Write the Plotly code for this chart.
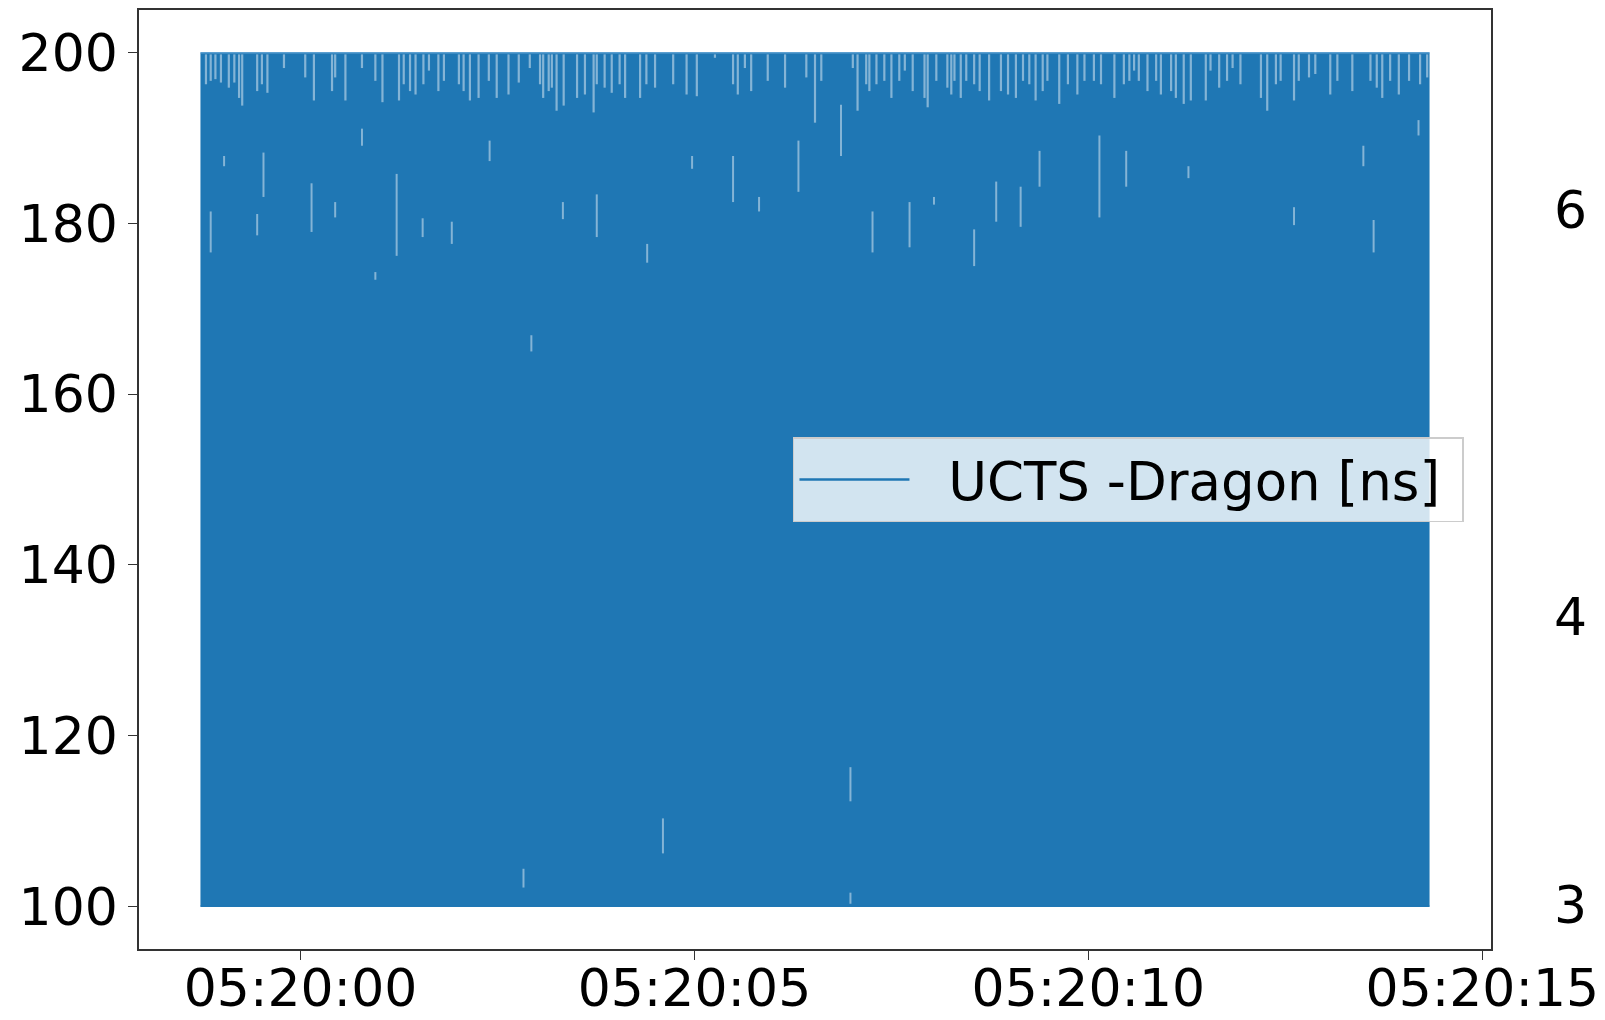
import plotly.graph_objects as go
from datetime import datetime, timedelta

# ---- data ----
BASE = datetime(2020, 1, 1, 5, 20, 0)
series_name = "UCTS -Dragon [ns]"
t_start, t_end = -1.27, 14.33          # seconds relative to 05:20:00
v_low, v_high = 100, 200               # envelope of the dense signal

# short dips from the top of the envelope: (seconds, lowest value)
top_dip_t = [-1.20, -1.14, -1.08, -1.01, -0.91, -0.84, -0.78, -0.74, -0.55, -0.49, -0.42, -0.21,
             0.06, 0.17, 0.40, 0.44, 0.57, 0.78, 0.95, 1.04, 1.25, 1.31, 1.39, 1.46, 1.56, 1.63,
             1.75, 1.82, 2.01, 2.07, 2.15, 2.26, 2.39, 2.49, 2.64,
             2.77, 2.91, 3.04, 3.08, 3.15, 3.19, 3.25, 3.34, 3.51, 3.61, 3.72, 3.76, 3.86, 3.95,
             4.05, 4.12, 4.31, 4.39, 4.50, 4.73, 4.90, 5.03, 5.26, 5.49, 5.55, 5.64, 5.72, 5.93,
             6.15, 6.42, 6.53, 6.61,
             7.01, 7.07, 7.18, 7.22, 7.31, 7.41, 7.50, 7.60, 7.67, 7.77, 7.92, 7.96, 8.07, 8.21,
             8.26, 8.30, 8.38, 8.45, 8.55, 8.62, 8.74, 8.89, 8.98, 9.08, 9.17, 9.25, 9.33, 9.42,
             9.48, 9.63, 9.74, 9.86, 9.95, 10.07, 10.16, 10.33, 10.45, 10.52,
             10.58, 10.64, 10.75, 10.86, 10.92, 11.05, 11.11, 11.21, 11.30, 11.49, 11.55, 11.66,
             11.76, 11.83, 11.93, 12.19, 12.27, 12.38, 12.44, 12.61, 12.67, 12.80, 12.88, 13.07,
             13.16, 13.35, 13.58, 13.66, 13.73, 13.83, 13.94, 14.07, 14.21, 14.30]
top_dip_v = [196.3, 196.7, 196.9, 196.5, 195.9, 196.5, 194.7, 193.8, 195.5, 196.3, 195.3, 198.2,
             197.1, 194.4, 195.5, 197.1, 194.4, 198.2, 196.7, 194.2, 194.4, 196.3, 195.5, 195.1, 196.3, 197.9,
             195.5, 196.7, 196.3, 195.5, 194.4, 194.7, 196.7, 194.7, 195.1,
             196.5, 198.2, 196.3, 194.7, 195.5, 195.9, 193.2, 193.8, 194.7, 195.1, 193.0, 196.3, 195.9, 195.3,
             196.3, 194.7, 194.7, 196.3, 195.9, 196.3, 195.1, 194.9, 199.4, 196.3, 195.1, 198.2, 195.5, 196.7,
             195.9, 197.1, 191.8, 196.7,
             198.2, 193.2, 196.3, 195.5, 196.3, 196.7, 194.7, 196.7, 197.9, 195.5, 194.7, 193.6, 196.7, 195.9,
             195.1, 196.7, 194.7, 196.7, 196.3, 195.5, 194.4, 195.5, 195.1, 194.7, 196.7, 196.3, 194.4, 195.5,
             196.7, 194.0, 196.3, 195.1, 196.7, 196.7, 196.3, 194.7, 196.3, 196.7,
             197.9, 196.7, 195.5, 196.7, 195.1, 195.5, 194.7, 194.0, 194.4, 194.4, 197.9, 195.9,
             196.7, 198.2, 196.3, 194.7, 193.2, 196.3, 196.7, 194.4, 196.7, 197.1, 197.5, 195.1,
             196.7, 195.5, 196.7, 195.9, 194.7, 196.7, 195.1, 196.7, 196.3, 197.1]

# isolated gaps inside the envelope: (seconds, upper value, lower value)
gap_t = [-1.14, -0.97, -0.55, -0.47, 0.14, 0.44, 0.78, 0.95, 1.22, 1.55, 1.92, 2.40, 2.93, 3.33,
         3.76, 4.40, 4.60, 2.83, 6.98, 6.98, 4.97, 5.49, 6.32, 7.26, 7.73, 8.04, 8.55, 8.83, 9.14,
         10.14, 10.48, 11.27, 12.61, 13.62, 13.49, 14.19, 5.82, 9.38, 6.86]
gap_hi = [181.4, 187.9, 181.1, 188.3, 184.7, 182.5, 191.1, 174.3, 185.8, 180.6, 180.2, 189.7, 166.9,
          182.5, 183.4, 177.6, 110.3, 104.4, 116.3, 101.6, 187.9, 187.9, 189.7, 181.4, 182.5, 183.1,
          179.3, 184.9, 184.3, 190.3, 188.5, 186.7, 181.9, 180.4, 189.1, 192.1, 183.1, 188.5, 193.9]
gap_lo = [176.6, 186.7, 178.6, 183.1, 179.0, 180.7, 189.1, 173.4, 176.2, 178.4, 177.6, 187.3, 165.0,
          180.5, 178.4, 175.4, 106.2, 102.2, 112.3, 100.3, 186.4, 182.5, 183.7, 176.6, 177.2, 182.2,
          175.0, 180.2, 179.6, 180.7, 184.3, 185.3, 179.8, 176.6, 186.7, 190.3, 181.4, 184.3, 187.9]

x_ticks_s = [0, 5, 10, 15]
y_ticks = [100, 120, 140, 160, 180, 200]
# tick labels of the neighbouring (cut-off) panel on the right
other_axis_labels = ["6", "4", "3"]
other_axis_vals = [0.787, 0.354, 0.047]


def ts(s):
    return BASE + timedelta(seconds=s)


BLUE = "#1f77b4"
FONT = "DejaVu Sans"
FS = 52
NB = "\u00a0"

fig = go.Figure()
x_env = [ts(t_start), ts(t_end)]
fig.add_trace(go.Scatter(x=x_env, y=[v_low, v_low], mode="lines",
                         line=dict(color=BLUE, width=1.5), showlegend=False, hoverinfo="skip"))
fig.add_trace(go.Scatter(x=x_env, y=[v_high, v_high], mode="lines", fill="tonexty",
                         fillcolor=BLUE, line=dict(color="#5c9fd0", width=1.5),
                         showlegend=False, hoverinfo="skip"))

# top dips
dx, dy = [], []
for t, v in zip(top_dip_t, top_dip_v):
    dx += [ts(t), ts(t), None]
    dy += [199.8, v, None]
fig.add_trace(go.Scatter(x=dx, y=dy, mode="lines",
                         line=dict(color="rgba(255,255,255,0.45)", width=2.2),
                         showlegend=False, hoverinfo="skip"))
gx, gy = [], []
for t, hi, lo in zip(gap_t, gap_hi, gap_lo):
    gx += [ts(t), ts(t), None]
    gy += [hi, lo, None]
fig.add_trace(go.Scatter(x=gx, y=gy, mode="lines",
                         line=dict(color="rgba(255,255,255,0.45)", width=2),
                         showlegend=False, hoverinfo="skip"))

# legend entry
fig.add_trace(go.Scatter(x=[None], y=[None], mode="lines", name=NB * 2 + series_name + NB,
                         line=dict(color=BLUE, width=2.5)))

axis_common = dict(showline=True, linecolor="#333333", linewidth=1.5, mirror=True,
                   ticks="outside", ticklen=9, tickwidth=1.2, tickcolor="#333333",
                   showgrid=False, zeroline=False, automargin=False,
                   tickfont=dict(family=FONT, size=FS, color="black"))

fig.update_xaxes(type="date", range=[ts(-2.05), ts(15.11)], ticklabelstandoff=-16,
                 tickvals=[ts(s) for s in x_ticks_s], tickformat="%H:%M:%S", **axis_common)
fig.update_yaxes(range=[95, 205], tickvals=y_ticks, **axis_common)

for lab, yv in zip(other_axis_labels, other_axis_vals):
    fig.add_annotation(xref="paper", yref="paper", x=1.0588, y=yv, xanchor="center",
                       yanchor="middle", text=lab, showarrow=False,
                       font=dict(family=FONT, size=FS, color="black"))

fig.update_layout(
    width=1605, height=1020,
    margin=dict(l=131, r=121.5, t=2, b=79),
    paper_bgcolor="white", plot_bgcolor="white",
    font=dict(family=FONT, size=FS, color="black"),
    legend=dict(x=0.98, y=0.5, xanchor="right", yanchor="middle",
                bgcolor="rgba(255,255,255,0.8)", bordercolor="#cccccc", borderwidth=1.5,
                itemwidth=110,
                font=dict(family=FONT, size=53, color="black")),
)

fig.write_html("out.html")
